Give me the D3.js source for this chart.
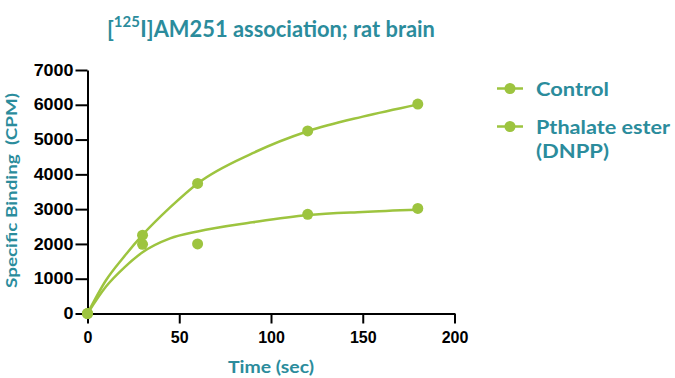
<!DOCTYPE html>
<html>
<head>
<meta charset="utf-8">
<script src="https://cdn.jsdelivr.net/npm/d3@7"></script>
<style>
    body { margin: 0; background: #fff; }
    svg text { font-family: Lato, 'Open Sans', sans-serif; font-weight: bold; }
    svg .tick text { font-family: 'Liberation Sans', Arial, sans-serif; font-size: 16px; fill: #000; }
</style>
</head>
<body>
<svg id="chart" width="675" height="378"></svg>
<script>
// measured points
var times = [0, 30, 60, 120, 180];
var control = [0, 2250, 3740, 5250, 6020];
var dnpp = [0, 1990, 2000, 2850, 3020];

// fitted curves
var fitTimes = [0, 10, 20, 30, 45, 60, 90, 120, 150, 180];
var controlFit = [0, 950, 1640, 2260, 3050, 3740, 4610, 5240, 5660, 6010];
var dnppFit = [0, 770, 1320, 1760, 2160, 2360, 2620, 2830, 2920, 2980];

var xTicks = [0, 50, 100, 150, 200];
var yTicks = [0, 1000, 2000, 3000, 4000, 5000, 6000, 7000];
var seriesNames = ['Control', 'Pthalate ester', '(DNPP)'];


var green = '#9dc43f',
    teal = '#2b8c9c';

var svg = d3.select('#chart');

var x = d3.scaleLinear().domain([0, 200]).range([87.5, 454.5]);
var y = d3.scaleLinear().domain([0, 7000]).range([313.5, 70]);

function stretch(selection, width) {
    selection
        .attr('textLength', width)
        .attr('lengthAdjust', 'spacingAndGlyphs');
}


// axes
var xAxis = svg.append('g')
    .attr('transform', 'translate(0,' + y(0) + ')')
    .call(d3.axisBottom(x).tickValues(xTicks).tickSize(10).tickSizeOuter(0).tickPadding(8));

var yAxis = svg.append('g')
    .attr('transform', 'translate(' + x(0) + ',0)')
    .call(d3.axisLeft(y).tickValues(yTicks).tickFormat(d3.format('d')).tickSize(12).tickSizeOuter(0).tickPadding(2));

svg.selectAll('.domain, .tick line')
    .attr('stroke', '#000')
    .attr('stroke-width', 2);

// y labels in the picture are a bit wider
yAxis.selectAll('.tick text').each(function() {
    var w = this.getComputedTextLength();
    stretch(d3.select(this), w * 1.12);
});


// curves and points
var line = d3.line()
    .x(function(d) { return x(d[0]); })
    .y(function(d) { return y(d[1]); })
    .curve(d3.curveMonotoneX);

[controlFit, dnppFit].forEach(function(fit) {
    svg.append('path')
        .datum(d3.zip(fitTimes, fit))
        .attr('d', line)
        .attr('fill', 'none')
        .attr('stroke', green)
        .attr('stroke-width', 2.5);
});

[control, dnpp].forEach(function(values) {
    svg.append('g')
        .selectAll('circle')
        .data(d3.zip(times, values))
        .enter().append('circle')
        .attr('cx', function(d) { return x(d[0]); })
        .attr('cy', function(d) { return y(d[1]); })
        .attr('r', 5.5)
        .attr('fill', green);
});


// title with superscript
var title = svg.append('g').attr('fill', teal);
var t1 = title.append('text').attr('x', 0).attr('y', 37.5).style('font-size', '22px').text('[');
var t2 = title.append('text').attr('y', 27.5).style('font-size', '15px').text('125');
var t3 = title.append('text').attr('y', 37.5).style('font-size', '22px').text('I]AM251 association; rat brain');
var w1 = t1.node().getComputedTextLength();
t2.attr('x', w1);
t3.attr('x', w1 + t2.node().getComputedTextLength() + 0.5);
var tw = title.node().getBBox().width;
title.attr('transform', 'translate(107,0) scale(' + (328 / tw) + ',1)');


// axis titles
svg.append('text')
    .attr('x', 271)
    .attr('y', 373)
    .attr('text-anchor', 'middle')
    .attr('fill', teal)
    .style('font-size', '17px')
    .text('Time (sec)')
    .call(stretch, 86);

svg.append('text')
    .attr('transform', 'translate(16.5,190.5) rotate(-90)')
    .attr('text-anchor', 'middle')
    .attr('fill', teal)
    .style('font-size', '16px')
    .style('white-space', 'pre')
    .text('Specific Binding  (CPM)')
    .call(stretch, 195);


// legend
var legend = svg.append('g');
[88.5, 126.5].forEach(function(cy) {
    legend.append('line')
        .attr('x1', 497).attr('x2', 523)
        .attr('y1', cy).attr('y2', cy)
        .attr('stroke', green)
        .attr('stroke-width', 2.5);
    legend.append('circle')
        .attr('cx', 510).attr('cy', cy)
        .attr('r', 5.5)
        .attr('fill', green);
});

var legendY = [96, 134, 157.5],
    legendW = [73, 134, 73];
legend.selectAll('text')
    .data(seriesNames)
    .enter().append('text')
    .attr('x', 536)
    .attr('y', function(d, i) { return legendY[i]; })
    .attr('fill', teal)
    .style('font-size', '19.5px')
    .text(function(d) { return d; })
    .each(function(d, i) { stretch(d3.select(this), legendW[i]); });
</script>
</body>
</html>
